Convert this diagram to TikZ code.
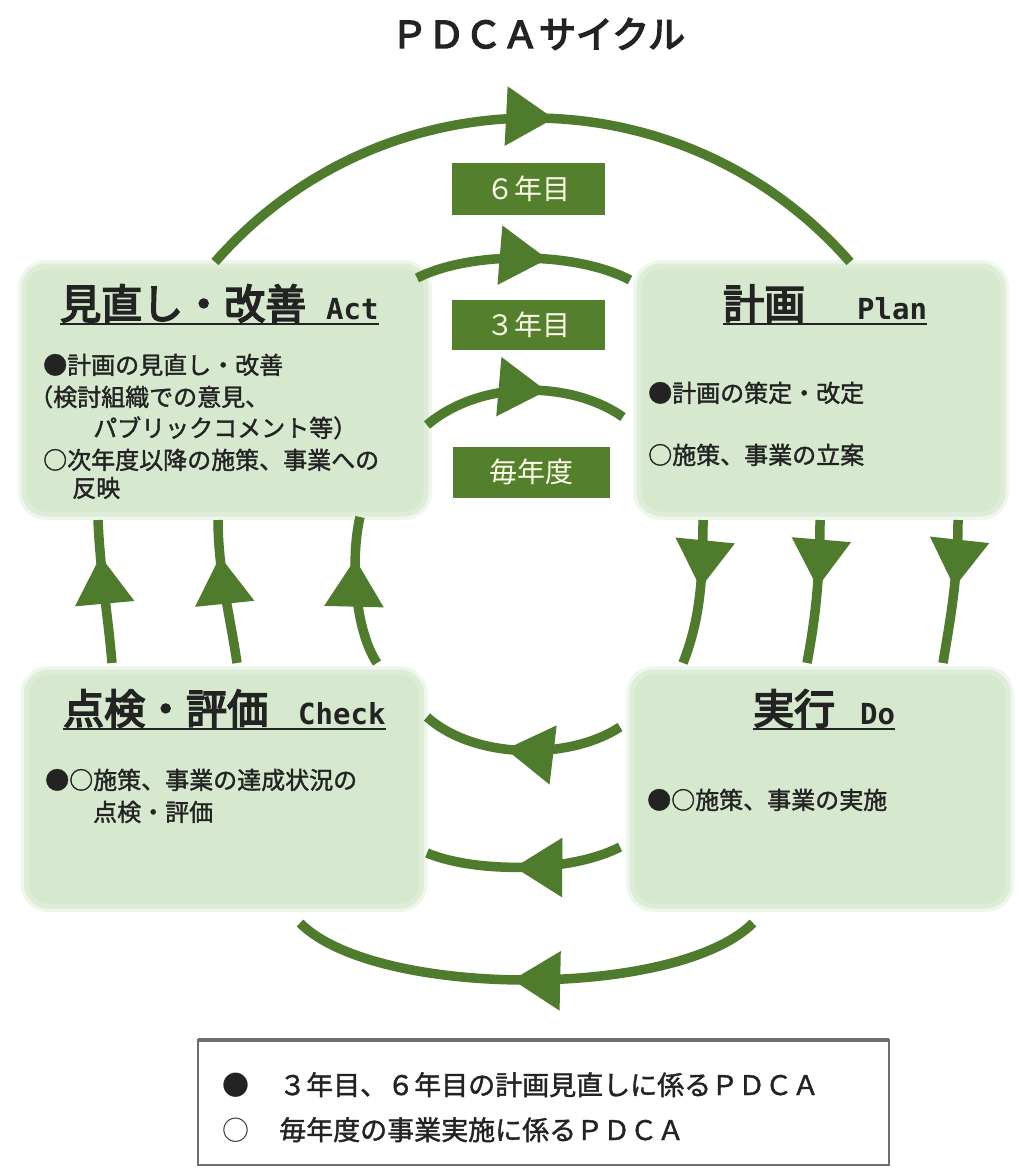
\documentclass[tikz,border=0pt]{standalone}
\usepackage{fontspec}
\newfontfamily\jp{Noto Sans CJK JP}
\newfontfamily\jpb[FakeBold=4]{Noto Sans CJK JP}
\newfontfamily\jpm[FakeBold=1.5]{Noto Sans CJK JP}
\newfontfamily\lat{DejaVu Sans Mono}
\usetikzlibrary{arrows.meta,decorations.markings}
\definecolor{arrowgreen}{RGB}{78,124,44}
\definecolor{labelgreen}{RGB}{84,128,46}
\definecolor{boxgreen}{RGB}{214,233,206}
\definecolor{txt}{RGB}{35,35,35}
\definecolor{legendline}{RGB}{110,110,110}
\tikzset{
  softbox/.style={fill=boxgreen, draw=boxgreen!80!white, line width=5pt, rounded corners=22pt,
    preaction={draw=boxgreen!40!white, line width=12pt, rounded corners=22pt}, inner sep=0pt, outer sep=0pt},
  yearlabel/.style={fill=labelgreen, text=white!92!yellow, inner sep=0pt,
    font=\jp\fontsize{28}{28}\selectfont},
  flow/.style={draw=arrowgreen, color=arrowgreen, line width=9.5pt},
  midarrow/.style={postaction={decorate}, decoration={markings,
    mark=at position #1 with {\arrow{Triangle[width=57pt,length=48pt]}}}},
  headtxt/.style={anchor=base west, inner sep=0pt, text=txt},
  bodytxt/.style={anchor=base west, inner sep=0pt, text=txt, font=\jpm\fontsize{24}{24}\selectfont},
  uline/.style={draw=txt, line width=2.5pt},
}
\newcommand{\hjp}[1]{{\jpb\fontsize{41}{41}\selectfont #1}}
\newcommand{\hlat}[1]{{\lat\bfseries\fontsize{29}{29}\selectfont #1}}
\begin{document}
\begin{tikzpicture}[x=1pt,y=-1pt]
\fill[white] (0,0) rectangle (1018,1174);
\useasboundingbox (0,0) rectangle (1018,1174);

% title
\node[anchor=base, inner sep=0pt, text=txt] (title) at (538,48)
  {\jpb\fontsize{37}{37}\selectfont ＰＤＣＡサイクル};

% boxes
\node[softbox, minimum width=402pt, minimum height=248pt] (act) at (225,390) {};
\node[softbox, minimum width=364pt, minimum height=248pt] (plan) at (821,390) {};
\node[softbox, minimum width=395pt, minimum height=234pt] (check) at (224,789) {};
\node[softbox, minimum width=376pt, minimum height=234pt] (do) at (820,789) {};

% Act
\node[headtxt] (actT) at (60,319) {\hjp{見直し・改善}\hspace{20pt}\hlat{Act}};
\draw[uline] ([yshift=-5pt]actT.base west) -- ([yshift=-5pt]actT.base east);
\node[bodytxt] (a1) at (43,374) {●計画の見直し・改善};
\node[bodytxt] (a2) at (29,406) {（検討組織での意見、};
\node[bodytxt] (a3) at (93,437) {パブリックコメント等）};
\node[bodytxt] (a4) at (43,469) {○次年度以降の施策、事業への};
\node[bodytxt] (a5) at (72,497) {反映};

% Plan
\node[headtxt] (planT) at (723,319) {\hjp{計画}\hspace{52pt}\hlat{Plan}};
\draw[uline] ([yshift=-5pt]planT.base west) -- ([yshift=-5pt]planT.base east);
\node[bodytxt] (p1) at (648,402) {●計画の策定・改定};
\node[bodytxt] (p2) at (648,464) {○施策、事業の立案};

% Check
\node[headtxt] (checkT) at (63,724) {\hjp{点検・評価}\hspace{30pt}\hlat{Check}};
\draw[uline] ([yshift=-5pt]checkT.base west) -- ([yshift=-5pt]checkT.base east);
\node[bodytxt] (c1) at (45,789) {●○施策、事業の達成状況の};
\node[bodytxt] (c2) at (93,821) {点検・評価};

% Do
\node[headtxt] (doT) at (753,724) {\hjp{実行}\hspace{25pt}\hlat{Do}};
\draw[uline] ([yshift=-5pt]doT.base west) -- ([yshift=-5pt]doT.base east);
\node[bodytxt] (d1) at (647,809) {●○施策、事業の実施};

% year labels
\node[yearlabel, minimum width=153pt, minimum height=52pt] (y6) at (528,189) {６年目};
\node[yearlabel, minimum width=153pt, minimum height=50pt] (y3) at (528,325) {３年目};
\node[yearlabel, minimum width=157pt, minimum height=51pt] (yy) at (531,472) {毎年度};

% connector end points
\coordinate (o1) at (215,262); \coordinate (o2) at (850,262);
\coordinate (m1) at (417,278); \coordinate (m2) at (630,280);
\coordinate (n1) at (427,425); \coordinate (n2) at (623,417);
\coordinate (r1a) at (703,520); \coordinate (r1b) at (683,663);
\coordinate (r2a) at (820,520); \coordinate (r2b) at (807,663);
\coordinate (r3a) at (958,520); \coordinate (r3b) at (943,663);
\coordinate (u1) at (620,727); \coordinate (u2) at (427,717);
\coordinate (l1) at (620,847); \coordinate (l2) at (427,853);
\coordinate (b1) at (753,923); \coordinate (b2) at (300,923);
\coordinate (L1a) at (112,663); \coordinate (L1b) at (98,520);
\coordinate (L2a) at (237,663); \coordinate (L2b) at (218,520);
\coordinate (L3a) at (377,663); \coordinate (L3b) at (360,517);

% Act -> Plan
\draw[flow, midarrow=0.53] (o1) .. controls (383,70) and (682,70) .. (o2);
\draw[flow, midarrow=0.61] (m1) .. controls (470,251) and (575,251) .. (m2);
\draw[flow, midarrow=0.61] (n1) .. controls (480,380) and (570,380) .. (n2);
% Plan -> Do
\draw[flow, midarrow=0.47] (r1a) .. controls (703,580) and (700,620) .. (r1b);
\draw[flow, midarrow=0.47] (r2a) .. controls (820,580) and (815,620) .. (r2b);
\draw[flow, midarrow=0.47] (r3a) .. controls (958,580) and (950,620) .. (r3b);
% Do -> Check
\draw[flow, midarrow=0.58] (u1) .. controls (570,760) and (475,760) .. (u2);
\draw[flow, midarrow=0.55] (l1) .. controls (570,873) and (475,873) .. (l2);
\draw[flow, midarrow=0.53] (b1) .. controls (677,999) and (376,999) .. (b2);
% Check -> Act
\draw[flow, midarrow=0.75] (L1a) .. controls (108,615) and (100,570) .. (L1b);
\draw[flow, midarrow=0.75] (L2a) .. controls (230,615) and (218,570) .. (L2b);
\draw[flow, midarrow=0.72] (L3a) .. controls (355,630) and (350,560) .. (L3b);

% legend
\draw[legendline, line width=2pt] (198,1040) rectangle (889,1165);
\draw[legendline, line width=4pt] (198,1040) -- (889,1040);
\node[anchor=base west, inner sep=0pt, text=txt] (k1) at (222,1095) {\jp\fontsize{27}{27}\selectfont ●};
\node[anchor=base west, inner sep=0pt, text=txt] (k1t) at (279,1095) {\jpm\fontsize{27}{27}\selectfont ３年目、６年目の計画見直しに係るＰＤＣＡ};
\node[anchor=base west, inner sep=0pt, text=txt] (k2) at (222,1140) {\jp\fontsize{27}{27}\selectfont ○};
\node[anchor=base west, inner sep=0pt, text=txt] (k2t) at (279,1140) {\jpm\fontsize{27}{27}\selectfont 毎年度の事業実施に係るＰＤＣＡ};
\end{tikzpicture}
\end{document}
